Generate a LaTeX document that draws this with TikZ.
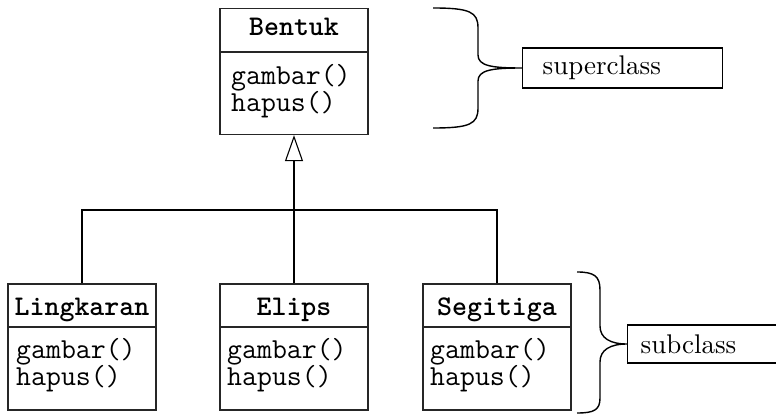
\documentclass[tikz,border=0pt]{standalone}
\usepackage{fontspec}
\newfontfamily\lmten{lmroman10-regular}[Extension=.otf]
\usetikzlibrary{arrows.meta}
\begin{document}
\begin{tikzpicture}[x=1pt,y=-1pt,
  cls/.style={draw=black!85,line width=1.3pt,minimum width=148pt,minimum height=126pt,inner sep=0pt},
  cname/.style={font=\fontsize{28.5}{28.5}\selectfont\ttfamily\bfseries,inner sep=0pt,anchor=base},
  meth/.style={font=\fontsize{29}{29}\selectfont\ttfamily,inner sep=0pt,anchor=base west},
  conn/.style={draw=black,line width=1.1pt},
  brc/.style={draw=black,line width=1.4pt},
  lbl/.style={draw=black,line width=1.3pt,font=\fontsize{27}{27}\selectfont\lmten,align=left,inner ysep=0pt,anchor=west}
]
\clip (0,0) rectangle (776,414);
\fill[white] (0,0) rectangle (776,414);

% superclass
\node[cls] (bentuk) at (294,71.5) {};
\draw[cls] (bentuk.west |- 0,52) -- (bentuk.east |- 0,52);
\node[cname] (bentukname) at (294,36) {Bentuk};
\node[meth] (bentukg) at (231,85) {gambar()};
\node[meth] (bentukh) at (231,112) {hapus()};

% subclasses
\node[cls] (ling) at (82,347) {};
\draw[cls] (ling.west |- 0,327) -- (ling.east |- 0,327);
\node[cname] (lingname) at (82,315) {Lingkaran};
\node[meth] (lingg) at (16,358) {gambar()};
\node[meth] (lingh) at (16,385) {hapus()};

\node[cls] (elips) at (294,347) {};
\draw[cls] (elips.west |- 0,327) -- (elips.east |- 0,327);
\node[cname] (elipsname) at (294,315) {Elips};
\node[meth] (elipsg) at (227,358) {gambar()};
\node[meth] (elipsh) at (227,385) {hapus()};

\node[cls] (seg) at (497,347) {};
\draw[cls] (seg.west |- 0,327) -- (seg.east |- 0,327);
\node[cname] (segname) at (497,315) {Segitiga};
\node[meth] (segg) at (430,358) {gambar()};
\node[meth] (segh) at (430,385) {hapus()};

% inheritance connectors
\coordinate (j) at (294,210);
\draw[conn] (ling.north) |- (j) -| (seg.north);
\draw[conn] (elips.north) -- (j);
\draw[conn,-{Triangle[open,length=26pt,width=18pt,line width=1.1pt]}] (j) -- (bentuk.south);

% superclass brace and label
\node[lbl,text width=160pt,inner xsep=20pt,minimum height=40pt] (sup) at (522,68) {superclass};
\draw[brc] (433,8) .. controls (470,8) and (478,12) .. (478,28) -- (478,55)
  .. controls (478,66) and (492,68) .. (sup.west)
  .. controls (492,68) and (478,70) .. (478,81) -- (478,108)
  .. controls (478,124) and (470,128) .. (433,128);

% subclass brace and label
\node[lbl,text width=160pt,inner xsep=13pt,minimum height=38pt] (sub) at (627,344) {subclass};
\draw[brc] (577,272) .. controls (594,272) and (600,276) .. (600,290) -- (600,326)
  .. controls (600,338) and (610,344) .. (sub.west)
  .. controls (610,344) and (600,350) .. (600,362) -- (600,398)
  .. controls (600,410) and (594,413) .. (577,413);
\end{tikzpicture}
\end{document}
